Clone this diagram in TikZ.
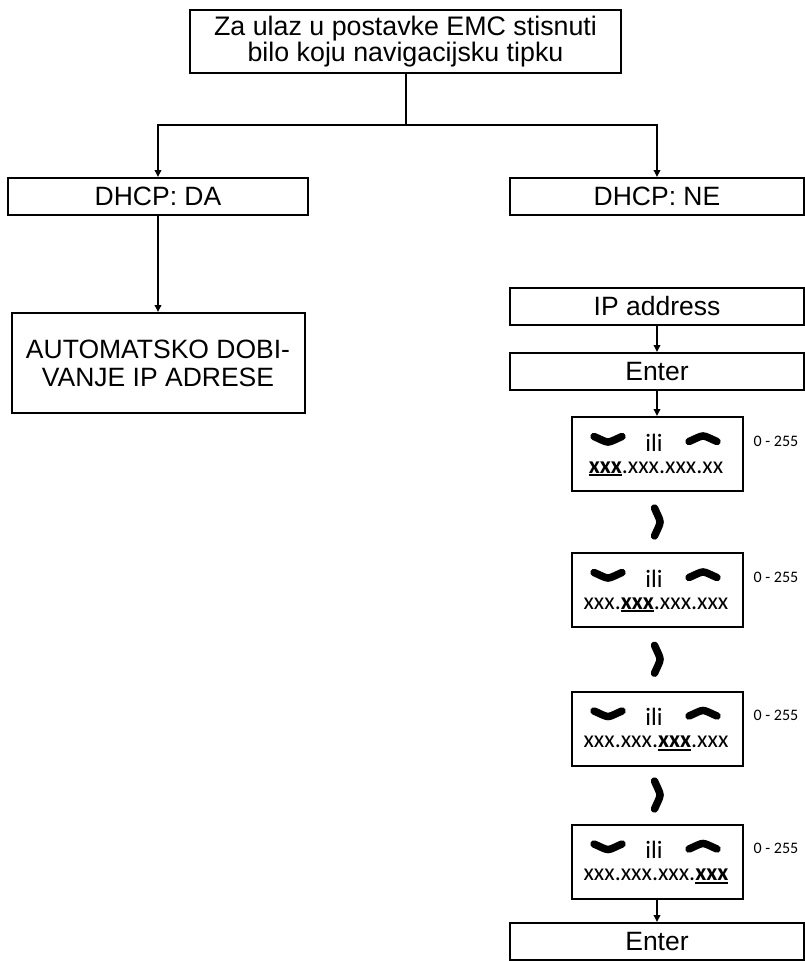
\documentclass[tikz,border=0pt]{standalone}
\usepackage{fontspec}
\setmainfont{Liberation Sans}
\newfontfamily\calfont{Carlito}
\usetikzlibrary{arrows.meta,calc}

% bold, underlined octet of the address being edited
\newcommand\keyseg[1]{\setbox0=\hbox{\bfseries #1}\rlap{\rule[-3pt]{\wd0}{2pt}}\box0}

\tikzset{
  % thick boomerang-shaped key glyph, vertex pointing down
  chev/.pic={
    \draw[line width=7.5pt, line cap=round]
      (-14,-1.5) .. controls (-7,1.5) and (-3,4) .. (0,4)
      .. controls (3,4) and (7,1.5) .. (14,-1.5);
    \fill (-6,2.5) .. controls (-3,6) and (3,6) .. (6,2.5)
      .. controls (3,9) and (-3,9) .. cycle;
  }
}

\begin{document}
\begin{tikzpicture}[x=1pt,y=-1pt,
  box/.style={draw, line width=2pt, inner sep=0pt, align=center,
    font=\fontsize{26.5}{23}\selectfont},
  wide/.style={box, minimum width=294pt, minimum height=37pt},
  keybox/.style={draw, line width=2pt, minimum width=171pt,
    minimum height=74pt, inner sep=0pt},
  ililabel/.style={font=\calfont\fontsize{25}{25}\selectfont, anchor=base, inner sep=0pt},
  addr/.style={font=\calfont\fontsize{24}{24}\selectfont, anchor=base, inner sep=0pt},
  rangelabel/.style={font=\calfont\fontsize{16}{18}\selectfont, anchor=base west, inner sep=0pt},
  link/.style={line width=2pt},
  flow/.style={link, -{Triangle[length=7pt,width=6.5pt]}},
  ]
\useasboundingbox (0,0) rectangle (805,961);

% top of the tree
\node[box, minimum width=431pt, minimum height=63pt,
  font=\fontsize{26.8}{23}\selectfont] (start) at (405.5,41.5)
  {Za ulaz u postavke EMC stisnuti\\bilo koju navigacijsku tipku};
\node[wide, minimum width=300pt] (da) at (158,196.5) {DHCP: DA};
\node[wide] (ne) at (657,196.5) {DHCP: NE};
\coordinate (split) at (405.5,125);

% automatic branch
\node[box, minimum width=293pt, minimum height=100pt,
  font=\fontsize{26.5}{28}\selectfont] (auto) at (158,363)
  {AUTOMATSKO DOBI-\\VANJE IP ADRESE};

% manual branch
\node[wide] (ip) at (657,306.5) {IP address};
\node[wide] (enter1) at (657,371.5) {Enter};

\foreach \i/\yc/\octets in {
    1/454/{\keyseg{xxx}.xxx.xxx.xx},
    2/590/{xxx.\keyseg{xxx}.xxx.xxx},
    3/728.5/{xxx.xxx.\keyseg{xxx}.xxx},
    4/861.5/{xxx.xxx.xxx.\keyseg{xxx}}} {
  \node[keybox] (k\i) at (657,\yc) {};
  \pic at ($(k\i)+(-49,-16)$) {chev};
  \pic[rotate=180] at ($(k\i)+(46,-14)$) {chev};
  \node[ililabel] (ili\i) at ($(k\i)+(-3,-3)$) {ili};
  \node[addr] (addr\i) at ($(k\i)+(-1,19)$) {\octets};
  \node[rangelabel] (range\i) at ($(k\i.east)+(10,-8)$) {0 - 255};
}

\foreach \a/\b in {1/2,2/3,3/4}
  \pic[rotate=90] at ($(k\a.south)!0.5!(k\b.north)+(-1,0)$) {chev};

\node[wide] (enter2) at (657,941.5) {Enter};

% connectors
\draw[link] (start.south) -- (split);
\draw[flow] (split) -| (da.north);
\draw[flow] (split) -| (ne.north);
\draw[flow] (da.south) -- (auto.north);
\draw[flow] (ip.south) -- (enter1.north);
\draw[flow] (enter1.south) -- (k1.north);
\draw[flow] (k4.south) -- (enter2.north);
\end{tikzpicture}
\end{document}
